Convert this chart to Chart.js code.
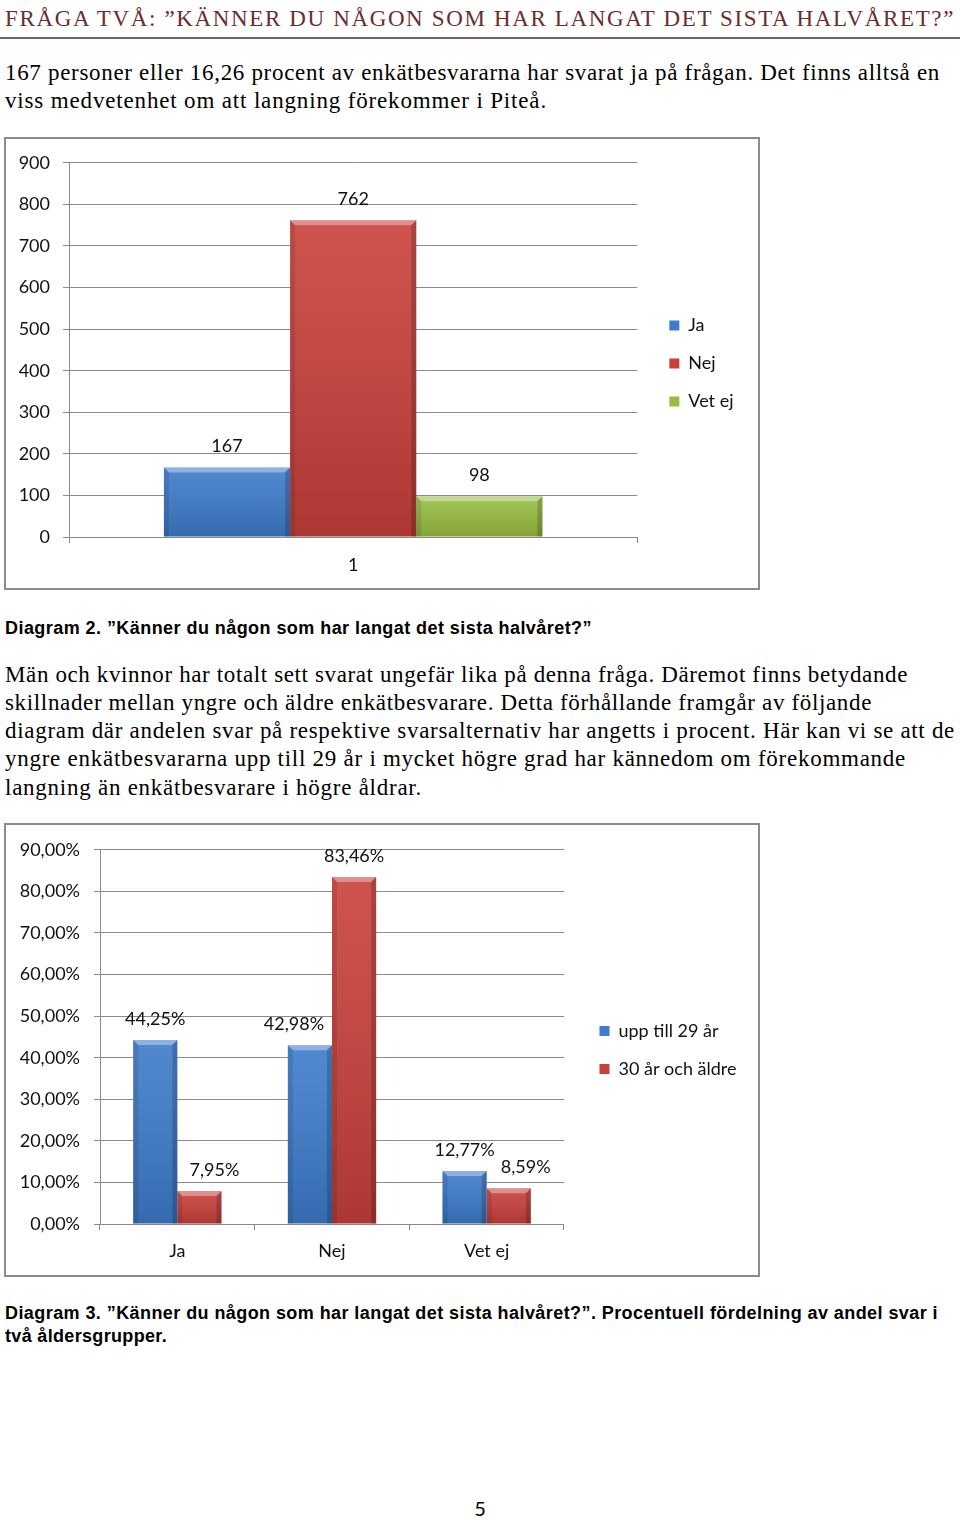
<!DOCTYPE html>
<html>
<head>
<meta charset="utf-8">
<script src="https://cdn.jsdelivr.net/npm/chart.js@4.4.0/dist/chart.umd.min.js"></script>
<style>
html, body { margin: 0; padding: 0; background: #fff; }
body { width: 960px; height: 1520px; position: relative; overflow: hidden; }
.t { position: absolute; white-space: nowrap; left: 5px; }
.head { top: 4px; font: 23px "Liberation Serif", serif; color: #6a2d2d; line-height: 30px; }
.rule { position: absolute; left: 0; top: 37px; width: 960px; height: 2px; background: #7b6262; }
.body { font: 23px "Liberation Serif", serif; color: #000; line-height: 28px; }
.cap { font: bold 18px "Liberation Sans", Arial, sans-serif; color: #000; line-height: 22px; }
.frame { position: absolute; left: 4px; width: 752px; border: 2px solid #8c8c8c; }
.pnum { position: absolute; left: 0; width: 960px; top: 1496px; text-align: center; font: 20px Lato, sans-serif; }
canvas { display: block; }
</style>
</head>
<body>
<div class="t head fit" data-w="950">FRÅGA TVÅ: ”KÄNNER DU NÅGON SOM HAR LANGAT DET SISTA HALVÅRET?”</div>
<div class="rule"></div>
<div class="t body fit" style="top:59px" data-w="935">167 personer eller 16,26 procent av enkätbesvararna har svarat ja på frågan. Det finns alltså en</div>
<div class="t body fit" style="top:87px" data-w="542">viss medvetenhet om att langning förekommer i Piteå.</div>

<div class="frame" style="top:137px;height:449px"><canvas id="chart1" width="752" height="449"></canvas></div>

<div class="t cap fit" style="top:617px" data-w="587">Diagram 2. ”Känner du någon som har langat det sista halvåret?”</div>
<div class="t body fit" style="top:661px" data-w="903">Män och kvinnor har totalt sett svarat ungefär lika på denna fråga. Däremot finns betydande</div>
<div class="t body fit" style="top:689px" data-w="867">skillnader mellan yngre och äldre enkätbesvarare. Detta förhållande framgår av följande</div>
<div class="t body fit" style="top:717px" data-w="950">diagram där andelen svar på respektive svarsalternativ har angetts i procent. Här kan vi se att de</div>
<div class="t body fit" style="top:745px" data-w="901">yngre enkätbesvararna upp till 29 år i mycket högre grad har kännedom om förekommande</div>
<div class="t body fit" style="top:774px" data-w="417">langning än enkätbesvarare i högre åldrar.</div>

<div class="frame" style="top:823px;height:450px"><canvas id="chart2" width="752" height="450"></canvas></div>

<div class="t cap fit" style="top:1302px" data-w="933">Diagram 3. ”Känner du någon som har langat det sista halvåret?”. Procentuell fördelning av andel svar i</div>
<div class="t cap fit" style="top:1325px" data-w="162">två åldersgrupper.</div>

<div class="pnum">5</div>

<script>
// Diagram 2 - antal svar
const c1Categories = ['1'];
const c1Series = ['Ja', 'Nej', 'Vet ej'];
const c1Values = [167, 762, 98];

// Diagram 3 - andel svar per åldersgrupp (procent)
const c2Categories = ['Ja', 'Nej', 'Vet ej'];
const c2Series = ['upp till 29 år', '30 år och äldre'];
const c2Young = [44.25, 42.98, 12.77];
const c2Old = [7.95, 83.46, 8.59];

const BLUE = '#3d7bcb';
const RED = '#c9403b';
const GREEN = '#98bd42';
const GRID = '#8a8a8a';

// fit text lines to the widths measured on the page
document.querySelectorAll('.fit').forEach(el => {
    const target = +el.dataset.w;
    const w = el.getBoundingClientRect().width;
    el.style.letterSpacing = ((target - w) / el.textContent.length) + 'px';
});

Chart.defaults.font.family = 'Lato';
Chart.defaults.font.size = 18;
Chart.defaults.color = '#111';

// Excel 2007 style bevel on the bars
const bevel = {
    id: 'bevel',
    afterDatasetsDraw(chart) {
        const ctx = chart.ctx;
        chart.data.datasets.forEach((ds, i) => {
            chart.getDatasetMeta(i).data.forEach(bar => {
                const { x, y, base, width } = bar.getProps(['x', 'y', 'base', 'width'], true);
                const l = x - width / 2, r = x + width / 2, h = base - y;
                const b = Math.min(5, h / 2);
                ctx.save();
                const g = ctx.createLinearGradient(0, y, 0, base);
                g.addColorStop(0, 'rgba(255,255,255,0.10)');
                g.addColorStop(1, 'rgba(0,0,0,0.14)');
                ctx.fillStyle = g;
                ctx.fillRect(l, y, width, h);
                ctx.fillStyle = 'rgba(255,255,255,0.35)';
                ctx.beginPath();
                ctx.moveTo(l, y); ctx.lineTo(r, y); ctx.lineTo(r - b, y + b); ctx.lineTo(l + b, y + b);
                ctx.closePath(); ctx.fill();
                ctx.fillStyle = 'rgba(0,0,0,0.10)';
                ctx.beginPath();
                ctx.moveTo(l, y); ctx.lineTo(l + b, y + b); ctx.lineTo(l + b, base); ctx.lineTo(l, base);
                ctx.closePath(); ctx.fill();
                ctx.fillStyle = 'rgba(0,0,0,0.18)';
                ctx.beginPath();
                ctx.moveTo(r, y); ctx.lineTo(r - b, y + b); ctx.lineTo(r - b, base); ctx.lineTo(r, base);
                ctx.closePath(); ctx.fill();
                ctx.restore();
            });
        });
    }
};

const makeLabels = (format, dx) => ({
    id: 'valueLabels',
    afterDatasetsDraw(chart) {
        const ctx = chart.ctx;
        ctx.save();
        ctx.font = '18px Lato';
        ctx.fillStyle = '#111';
        ctx.textAlign = 'center';
        ctx.textBaseline = 'middle';
        chart.data.datasets.forEach((ds, i) => {
            chart.getDatasetMeta(i).data.forEach((bar, j) => {
                const off = (dx && dx[i] && dx[i][j]) || 0;
                ctx.fillText(format(ds.data[j]), bar.x + off, bar.y - 21);
            });
        });
        ctx.restore();
    }
});

const baseScales = (yWidth, xPad, gapWidth, yOpts) => ({
    x: {
        grid: { offset: true, drawOnChartArea: false, tickLength: 6, color: GRID },
        border: { color: GRID },
        ticks: { padding: xPad },
        afterFit: s => { s.height = 51; }
    },
    y: Object.assign({
        min: 0,
        grid: { color: GRID, tickLength: 6 },
        border: { color: GRID },
        afterFit: s => { s.width = yWidth; }
    }, yOpts),
    top: {
        type: 'category', position: 'top', display: true,
        grid: { display: false }, border: { display: false }, ticks: { display: false },
        afterFit: s => { s.height = 21; }
    },
    gap: {
        type: 'linear', position: 'right', display: true,
        grid: { display: false }, border: { display: false }, ticks: { display: false },
        afterFit: s => { s.width = gapWidth; }
    }
});

const legendOpts = {
    position: 'right',
    align: 'center',
    maxWidth: 300,
    labels: { boxWidth: 10, boxHeight: 10, padding: 20, color: '#111' }
};

const c1Colors = [BLUE, RED, GREEN];
new Chart(document.getElementById('chart1'), {
    type: 'bar',
    data: {
        labels: c1Categories,
        datasets: c1Series.map((s, i) => ({
            label: s,
            data: [c1Values[i]],
            backgroundColor: c1Colors[i],
            borderWidth: 0,
            categoryPercentage: 0.666,
            barPercentage: 1
        }))
    },
    options: {
        responsive: false,
        animation: false,
        layout: { padding: { top: 0, right: 14.5, bottom: 0, left: 0 } },
        scales: baseScales(63, 11, 12, {
            max: 900,
            ticks: { stepSize: 100, padding: 13 }
        }),
        plugins: { legend: legendOpts, tooltip: { enabled: false } }
    },
    plugins: [bevel, makeLabels(v => String(v))]
});

const pct = v => v.toFixed(2).replace('.', ',') + '%';
new Chart(document.getElementById('chart2'), {
    type: 'bar',
    data: {
        labels: c2Categories,
        datasets: [
            { label: c2Series[0], data: c2Young, backgroundColor: BLUE, borderWidth: 0, categoryPercentage: 0.571, barPercentage: 1 },
            { label: c2Series[1], data: c2Old, backgroundColor: RED, borderWidth: 0, categoryPercentage: 0.571, barPercentage: 1 }
        ]
    },
    options: {
        responsive: false,
        animation: false,
        layout: { padding: { top: 0, right: 11.5, bottom: 0, left: 0 } },
        scales: baseScales(94, 10, 15.5, {
            max: 90,
            ticks: { stepSize: 10, padding: 14, callback: v => pct(v) }
        }),
        plugins: { legend: legendOpts, tooltip: { enabled: false } }
    },
    plugins: [bevel, makeLabels(pct, [[0, -16, 0], [15, 0, 17]])]
});
</script>
</body>
</html>
